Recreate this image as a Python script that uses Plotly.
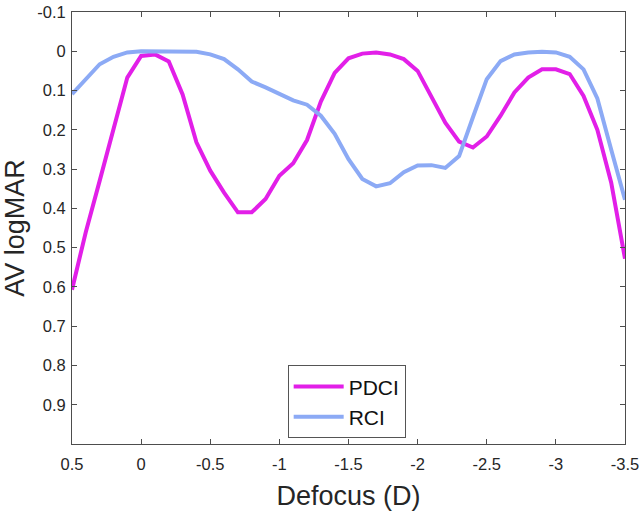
import plotly.graph_objects as go

defocus = [0.5, 0.4, 0.3, 0.2, 0.1, 0.0, -0.1, -0.2, -0.3, -0.4,
           -0.5, -0.6, -0.7, -0.8, -0.9, -1.0, -1.1, -1.2, -1.3, -1.4,
           -1.5, -1.6, -1.7, -1.8, -1.9, -2.0, -2.1, -2.2, -2.3, -2.4,
           -2.5, -2.6, -2.7, -2.8, -2.9, -3.0, -3.1, -3.2, -3.3, -3.4, -3.5]

pdci = [0.607, 0.46, 0.33, 0.203, 0.067, 0.012, 0.008, 0.026, 0.11, 0.232,
        0.304, 0.36, 0.41, 0.41, 0.376, 0.317, 0.285, 0.226, 0.128, 0.055,
        0.018, 0.006, 0.003, 0.008, 0.02, 0.05, 0.114, 0.182, 0.23, 0.245,
        0.217, 0.164, 0.105, 0.067, 0.046, 0.046, 0.058, 0.114, 0.2, 0.334, 0.528]

rci = [0.109, 0.071, 0.033, 0.014, 0.003, 0.0, 0.0, 0.0, 0.0, 0.001,
       0.008, 0.02, 0.046, 0.077, 0.092, 0.108, 0.125, 0.136, 0.164, 0.21,
       0.275, 0.325, 0.344, 0.336, 0.308, 0.291, 0.29, 0.297, 0.267, 0.168,
       0.071, 0.025, 0.008, 0.003, 0.001, 0.003, 0.014, 0.046, 0.12, 0.25, 0.378]

x_tickvals = [0.5, 0, -0.5, -1, -1.5, -2, -2.5, -3, -3.5]
x_ticktext = ["0.5", "0", "-0.5", "-1", "-1.5", "-2", "-2.5", "-3", "-3.5"]
y_tickvals = [-0.1, 0, 0.1, 0.2, 0.3, 0.4, 0.5, 0.6, 0.7, 0.8, 0.9]
y_ticktext = ["-0.1", "0", "0.1", "0.2", "0.3", "0.4", "0.5", "0.6", "0.7", "0.8", "0.9"]

font_family = "Liberation Sans, Arial, sans-serif"
axis_color = "#4d4d4d"
text_color = "#262626"

fig = go.Figure()
fig.add_trace(go.Scatter(x=defocus, y=pdci, mode="lines", name="PDCI",
                         line=dict(color="#E21FE8", width=4)))
fig.add_trace(go.Scatter(x=defocus, y=rci, mode="lines", name="RCI",
                         line=dict(color="#8CAAF5", width=4)))

fig.update_layout(
    width=644, height=511,
    margin=dict(l=72, r=19, t=12, b=67),
    paper_bgcolor="white", plot_bgcolor="white",
    font=dict(family=font_family, color=text_color),
    showlegend=True,
    legend=dict(x=0.39, y=0.182, xanchor="left", yanchor="top",
                bordercolor="#555555", borderwidth=1, bgcolor="white",
                font=dict(size=21, color="#111111"),
                tracegroupgap=0, itemwidth=50),
)

fig.update_xaxes(
    range=[0.5, -3.5], tickvals=x_tickvals, ticktext=x_ticktext,
    automargin=False,
    showgrid=False, zeroline=False,
    showline=True, linecolor=axis_color, linewidth=1, mirror="ticks",
    ticks="inside", ticklen=5, tickcolor=axis_color, ticklabelstandoff=5,
    tickfont=dict(size=16.5, color=text_color),
    title=dict(text="Defocus (D)", font=dict(size=27, color=text_color), standoff=14),
)
fig.update_yaxes(
    range=[1.0, -0.1], tickvals=y_tickvals, ticktext=y_ticktext,
    automargin=False,
    showgrid=False, zeroline=False,
    showline=True, linecolor=axis_color, linewidth=1, mirror="ticks",
    ticks="inside", ticklen=5, tickcolor=axis_color, ticklabelstandoff=2,
    tickfont=dict(size=16.5, color=text_color),
    title=dict(text="AV logMAR", font=dict(size=27, color=text_color), standoff=10),
)

fig.write_html("out.html",
               config={"displayModeBar": False},
               post_script="document.body.style.margin='0';document.body.style.padding='0';")
